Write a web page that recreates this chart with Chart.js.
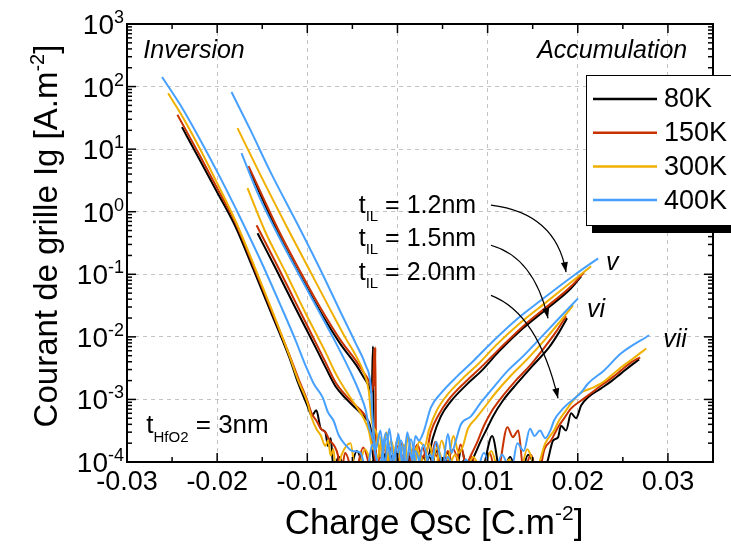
<!DOCTYPE html>
<html>
<head>
<meta charset="utf-8">
<title>Courant de grille</title>
<script src="https://cdn.jsdelivr.net/npm/chart.js@4.4.0/dist/chart.umd.min.js"></script>
<style>
  html, body { margin: 0; padding: 0; background: #fff; }
  #wrap { width: 731px; height: 544px; }
</style>
</head>
<body>
<div id="wrap"><canvas id="myChart" width="731" height="544"></canvas></div>
<script>
// temperatures (legend) and their colours
const temps = ['80K', '150K', '300K', '400K'];
const tempColors = ['#000000', '#c83200', '#f0b000', '#46a0ff'];

// axis ticks
const chargeTicks = [-0.03, -0.02, -0.01, 0, 0.01, 0.02, 0.03];
const chargeTickLabels = ['-0.03', '-0.02', '-0.01', '0.00', '0.01', '0.02', '0.03'];
const chargeMinorTicks = [-0.025, -0.015, -0.005, 0.005, 0.015, 0.025];
const currentTicks = [1e-4, 1e-3, 1e-2, 1e-1, 1, 10, 100, 1000];
const currentExponents = ['-4', '-3', '-2', '-1', '0', '1', '2', '3'];
const mantissas = [2, 3, 4, 5, 6, 7, 8, 9];

// [Qsc (C.m-2), Ig (A.m-2)]  --  tIL = 1.2 nm  (v)
const il12_80K = [[-0.01641,4.61],[-0.01319,0.437],[-0.01074,0.0929],[-0.00852,0.0247],[-0.0063,7.59e-3],[-0.00463,3.63e-3],[-0.00374,2.25e-3],[-0.00319,1.67e-3],[-0.00286,1.29e-3],[-0.00271,7.05e-3],[-0.0026,5e-5],
  [-0.002,8e-5],[-0.0014,1.3e-4],[-0.0008,6e-5],[-0.0002,1.5e-4],[0.0004,5e-5],[0.001,1.2e-4],[0.0016,6e-5],[0.0022,1.4e-4],[0.0028,7e-5],
  [0.00348,1.27e-4],[0.00392,2.4e-4],[0.00481,5.35e-4],[0.00592,9.3e-4],[0.0077,1.74e-3],[0.00937,2.91e-3],[0.01126,5.86e-3],[0.01392,0.0137],[0.01648,0.0275],[0.01926,0.0597],[0.02037,0.0929]];
const il12_150K = [[-0.01652,5.35],[-0.01319,0.506],[-0.01074,0.1076],[-0.00852,0.0286],[-0.0063,8.79e-3],[-0.00463,4.21e-3],[-0.00374,2.7e-3],[-0.00319,2.01e-3],[-0.00274,1.39e-3],[-0.00255,6.6e-3],[-0.0025,1.6e-3],[-0.00245,6.8e-3],[-0.00236,5e-5],
  [-0.0019,1.9e-4],[-0.0013,7e-5],[-0.0007,1.7e-4],[-0.0001,6e-5],[0.0005,2.0e-4],[0.0011,7e-5],[0.0017,1.6e-4],[0.0023,6e-5],[0.0028,1.2e-4],
  [0.00326,1.5e-4],[0.0037,3.0e-4],[0.00459,5.75e-4],[0.0057,1.0e-3],[0.00759,1.94e-3],[0.00926,3.25e-3],[0.01126,6.31e-3],[0.01392,0.0147],[0.01648,0.0296],[0.01926,0.0643],[0.0207,0.1076]];
const il12_300K = [[-0.01774,21.7],[-0.01519,3.84],[-0.01208,0.506],[-0.00963,0.1076],[-0.00741,0.0265],[-0.00574,9.46e-3],[-0.00463,5.06e-3],[-0.00374,2.7e-3],[-0.00319,1.39e-3],[-0.00286,4.6e-4],
  [-0.0023,2.8e-4],[-0.0018,1.2e-4],[-0.0012,3.0e-4],[-0.0006,8e-5],[0.0,2.4e-4],[0.0006,7e-5],[0.0012,2.6e-4],[0.0018,9e-5],[0.0024,2.1e-4],
  [0.00303,1.8e-4],[0.00348,3.2e-4],[0.00437,6.7e-4],[0.00548,1.16e-3],[0.00726,2.17e-3],[0.00903,3.77e-3],[0.01092,7.31e-3],[0.0137,0.0171],[0.01648,0.0356],[0.01981,0.0863],[0.02148,0.134]];
const il12_400K = [[-0.01841,81.7],[-0.0163,20.1],[-0.01408,4.29],[-0.01074,0.506],[-0.00852,0.116],[-0.0063,0.0247],[-0.00463,7.87e-3],[-0.00352,3.5e-3],[-0.00297,1.67e-3],[-0.00274,4.6e-4],
  [-0.0024,1.6e-4],[-0.0019,3.2e-4],[-0.0014,9e-5],[-0.0009,3.4e-4],[-0.0004,1.0e-4],[0.0001,2.8e-4],[0.0006,8e-5],[0.0011,3.0e-4],[0.0016,1.1e-4],[0.0020,2.6e-4],
  [0.00237,2.2e-4],[0.00292,3.1e-4],[0.0037,7.4e-4],[0.00481,1.25e-3],[0.0067,2.4e-3],[0.00848,4.2e-3],[0.01037,7.9e-3],[0.01337,0.0198],[0.01592,0.0384],[0.01959,0.0964],[0.02226,0.18]];

// tIL = 1.5 nm  (vi)
const il15_80K = [[-0.01552,0.453],[-0.01352,0.125],[-0.0113,0.0286],[-0.00908,6.79e-3],[-0.00797,3.25e-3],[-0.00686,1.61e-3],[-0.00574,1.04e-3],[-0.00463,7.2e-4],[-0.00352,4.97e-4],[-0.00297,3.4e-4],
  [-0.0027,1.2e-4],[-0.002,6e-5],[-0.0013,1.4e-4],[-0.0006,5e-5],[0.0001,1.1e-4],[0.0008,6e-5],[0.0015,1.3e-4],[0.0022,5e-5],[0.0029,1.2e-4],[0.0036,6e-5],[0.0043,1.5e-4],[0.005,7e-5],[0.0057,1.2e-4],[0.0064,6e-5],[0.0071,1.6e-4],[0.0077,8e-5],
  [0.00837,1.14e-4],[0.00926,2.2e-4],[0.00992,3.4e-4],[0.01059,5.35e-4],[0.0117,9.6e-4],[0.01326,1.8e-3],[0.01492,3.37e-3],[0.01681,6.79e-3],[0.01792,0.0118],[0.01881,0.0198]];
const il15_150K = [[-0.01563,0.608],[-0.01352,0.156],[-0.0113,0.0356],[-0.00908,8.17e-3],[-0.00797,3.91e-3],[-0.00686,1.87e-3],[-0.00574,1.16e-3],[-0.00463,8.0e-4],[-0.00386,6.2e-4],[-0.0033,4.6e-4],
  [-0.0028,2.0e-4],[-0.0021,7e-5],[-0.0014,1.6e-4],[-0.0007,6e-5],[0.0,1.8e-4],[0.0007,7e-5],[0.0014,1.4e-4],[0.0021,6e-5],[0.0028,1.7e-4],[0.0035,7e-5],[0.0042,2.1e-4],[0.0049,8e-5],[0.0056,1.5e-4],[0.0063,6e-5],[0.007,1.9e-4],[0.0076,9e-5],
  [0.00814,1.27e-4],[0.00892,2.2e-4],[0.00959,3.8e-4],[0.01037,6.2e-4],[0.01148,1.04e-3],[0.01314,2.01e-3],[0.01481,3.63e-3],[0.01648,7.31e-3],[0.0177,0.0127],[0.0187,0.0213]];
const il15_300K = [[-0.01663,2.38],[-0.01474,0.506],[-0.01241,0.1076],[-0.01019,0.0238],[-0.00797,5.65e-3],[-0.00686,2.61e-3],[-0.00574,1.39e-3],[-0.00463,8.0e-4],[-0.00374,4.97e-4],[-0.00319,3.2e-4],
  [-0.0027,1.6e-4],[-0.002,2.6e-4],[-0.0014,7e-5],[-0.0007,2.2e-4],[0.0,8e-5],[0.0007,1.9e-4],[0.0014,6e-5],[0.0021,1.7e-4],[0.0028,7e-5],[0.0035,2.0e-4],[0.0042,8e-5],[0.0049,2.2e-4],[0.0056,1.1e-4],[0.0062,2.6e-4],[0.0068,1.4e-4],
  [0.00726,1.8e-4],[0.00781,3.4e-4],[0.0087,4.97e-4],[0.00981,8.0e-4],[0.01092,1.29e-3],[0.01259,2.41e-3],[0.01448,4.53e-3],[0.01648,9.46e-3],[0.01814,0.0184],[0.01948,0.0319]];
const il15_400K = [[-0.0173,8.63],[-0.01541,1.84],[-0.01352,0.506],[-0.0113,0.125],[-0.00908,0.0319],[-0.00686,8.17e-3],[-0.00519,2.7e-3],[-0.00408,1.16e-3],[-0.00352,6.7e-4],[-0.00319,3.8e-4],
  [-0.0027,2.2e-4],[-0.002,8e-5],[-0.0013,2.9e-4],[-0.0006,9e-5],[0.0001,2.5e-4],[0.0008,7e-5],[0.0015,2.3e-4],[0.0022,8e-5],[0.0029,1.9e-4],[0.0036,7e-5],[0.0043,2.1e-4],[0.005,9e-5],[0.0056,2.8e-4],[0.006,1.4e-4],
  [0.00648,2.2e-4],[0.00703,3.98e-4],[0.00814,5.35e-4],[0.00926,8.95e-4],[0.01037,1.39e-3],[0.01226,2.91e-3],[0.01403,5.06e-3],[0.01592,9.8e-3],[0.01792,0.0198],[0.02003,0.0413]];

// tIL = 2.0 nm  (vii)
const il20_80K = [[-0.0239,22.5],[-0.022,7.0],[-0.020,2.05],[-0.018,0.59],[-0.016,0.122],[-0.014,0.024],[-0.012,4.7e-3],[-0.011,1.8e-3],[-0.010,8.0e-4],[-0.0095,5.5e-4],[-0.009,6.7e-4],[-0.0085,3.4e-4],[-0.008,3.0e-4],[-0.0077,1.8e-4],[-0.0074,2.4e-4],[-0.0071,8e-5],
  [-0.0065,1.2e-4],[-0.0055,6e-5],[-0.0045,1.5e-4],[-0.0035,7e-5],[-0.0025,1.1e-4],[-0.0015,5e-5],[-0.0005,1.3e-4],[0.0005,6e-5],[0.0015,1.0e-4],[0.0025,5e-5],[0.0035,1.2e-4],[0.0045,6e-5],[0.0055,1.4e-4],[0.0065,7e-5],[0.0075,1.1e-4],[0.0085,5e-5],[0.0095,8e-5],[0.0105,2.6e-4],[0.0115,6e-5],[0.0125,1.2e-4],[0.0135,5e-5],[0.0145,1.3e-4],[0.0155,7e-5],[0.0161,6e-5],
  [0.0167,1.1e-4],[0.01726,2.2e-4],[0.01781,2.47e-4],[0.01814,3.8e-4],[0.0187,3.2e-4],[0.01926,6.0e-4],[0.01981,5.0e-4],[0.02037,8.0e-4],[0.02114,1.08e-3],[0.02259,1.5e-3],[0.0237,1.94e-3],[0.02481,2.61e-3],[0.02592,3.5e-3],[0.02681,4.37e-3]];
const il20_150K = [[-0.02441,35.4],[-0.022,8.3],[-0.020,2.38],[-0.018,0.68],[-0.016,0.139],[-0.014,0.027],[-0.012,5.2e-3],[-0.011,2.17e-3],[-0.010,9.6e-4],[-0.0095,5.9e-4],[-0.009,4.6e-4],[-0.0085,3.4e-4],[-0.008,3.0e-4],[-0.0075,2.2e-4],[-0.007,1.8e-4],[-0.0066,1.27e-4],[-0.0063,6e-5],
  [-0.0058,1.4e-4],[-0.0048,6e-5],[-0.0038,1.7e-4],[-0.0028,7e-5],[-0.0018,1.2e-4],[-0.0008,5e-5],[0.0002,1.5e-4],[0.0012,7e-5],[0.0022,1.9e-4],[0.0032,6e-5],[0.0042,1.3e-4],[0.0052,8e-5],[0.0062,1.6e-4],[0.0072,6e-5],[0.0082,1.2e-4],[0.0092,5e-5],[0.0102,1.4e-4],[0.011,6e-5],[0.0122,3.6e-4],[0.0128,2.5e-4],[0.0134,3.2e-4],[0.014,7e-5],[0.0148,1.3e-4],[0.0156,6e-5],[0.0163,1.6e-4],
  [0.01703,2.2e-4],[0.01781,3.6e-4],[0.01848,4.97e-4],[0.01926,7.2e-4],[0.02037,9.6e-4],[0.02114,1.16e-3],[0.02259,1.67e-3],[0.0237,2.17e-3],[0.02481,2.91e-3],[0.02592,3.91e-3],[0.02692,4.7e-3]];
const il20_300K = [[-0.02544,78],[-0.024,36],[-0.022,10.7],[-0.020,2.86],[-0.018,0.73],[-0.016,0.15],[-0.014,0.0286],[-0.012,5.06e-3],[-0.011,2.0e-3],[-0.010,9.0e-4],[-0.0095,5.0e-4],[-0.009,3.4e-4],[-0.0085,2.65e-4],[-0.008,1.8e-4],[-0.0077,2.2e-4],[-0.0074,1.27e-4],[-0.0071,1.6e-4],[-0.0068,6e-5],
  [-0.0062,1.3e-4],[-0.0052,2.0e-4],[-0.0046,6e-5],[-0.0036,1.6e-4],[-0.0026,8e-5],[-0.0016,2.2e-4],[-0.0006,6e-5],[0.0004,1.8e-4],[0.0014,7e-5],[0.0024,1.4e-4],[0.0034,5e-5],[0.0044,1.7e-4],[0.0054,7e-5],[0.0064,1.3e-4],[0.0074,6e-5],[0.0084,1.2e-4],[0.0094,7e-5],[0.0104,1.5e-4],[0.0114,6e-5],[0.0124,1.1e-4],[0.0134,5e-5],[0.0144,1.6e-4],[0.0154,8e-5],[0.0164,2.0e-4],
  [0.01737,3.2e-4],[0.01792,4.6e-4],[0.0187,6.7e-4],[0.01948,9.6e-4],[0.02037,1.29e-3],[0.02148,1.5e-3],[0.02259,1.8e-3],[0.0237,2.4e-3],[0.02481,3.25e-3],[0.02614,4.5e-3],[0.02759,6.5e-3]];
const il20_400K = [[-0.02611,142],[-0.02408,50.6],[-0.02186,13.9],[-0.01963,3.44],[-0.01741,0.787],[-0.01519,0.1675],[-0.01297,0.0319],[-0.0113,8.79e-3],[-0.0102,3.5e-3],[-0.0093,1.8e-3],[-0.0083,1.08e-3],[-0.0077,6.2e-4],[-0.0071,4.6e-4],[-0.0065,2.65e-4],[-0.0058,1.9e-4],[-0.005,1.5e-4],[-0.0041,1.4e-4],[-0.0034,7e-5],
  [-0.0028,1.9e-4],[-0.002,8e-5],[-0.0012,2.4e-4],[-0.0004,7e-5],[0.0004,2.2e-4],[0.0012,6e-5],[0.002,1.5e-4],[0.0028,7e-5],[0.0036,1.3e-4],[0.0046,6e-5],[0.0056,1.2e-4],[0.0066,5e-5],[0.0076,1.1e-4],[0.0086,6e-5],[0.0096,1.4e-4],[0.0106,6e-5],[0.0116,1.3e-4],[0.0126,7e-5],[0.0133,2.0e-4],[0.014,1.5e-4],[0.0147,3.4e-4],[0.0152,2.6e-4],[0.0158,3.2e-4],[0.0164,2.4e-4],[0.017,3.3e-4],
  [0.01737,4.6e-4],[0.01848,7.45e-4],[0.02037,1.29e-3],[0.02114,1.8e-3],[0.02292,2.91e-3],[0.02481,5.45e-3],[0.02792,0.0106]];

// one row per temperature, same order as temps
const curvesByTemp = [
  [il12_80K, il15_80K, il20_80K],
  [il12_150K, il15_150K, il20_150K],
  [il12_300K, il15_300K, il20_300K],
  [il12_400K, il15_400K, il20_400K]
];

// annotation positions in data units [Qsc, Ig]
const ilLabels = [['1.2nm', -0.0043, 0.946], ['1.5nm', -0.0043, 0.28], ['2.0nm', -0.0043, 0.080]];
const arrowPaths = [
  [[0.01037, 1.27], [0.01759, 0.946], [0.0187, 0.108]],
  [[0.01037, 0.291], [0.01514, 0.187], [0.0167, 0.0198]],
  [[0.01037, 0.0461], [0.01559, 0.0238], [0.01781, 1.04e-3]]
];
const curveTags = [['v', 0.02314, 0.116], ['vi', 0.02103, 0.0205], ['vii', 0.02948, 6.8e-3]];

const FONT = '"Liberation Sans", Arial, sans-serif';
const fnt = (size, italic) => (italic ? 'italic ' : '') + size + 'px ' + FONT;

// draw a run of text pieces [text, size, dy] (for super/subscripts)
function rich(ctx, parts, x, y, align, italic) {
  let w = 0;
  parts.forEach(p => { ctx.font = fnt(p[1], italic); w += ctx.measureText(p[0]).width; });
  let cx = align === 'right' ? x - w : align === 'center' ? x - w / 2 : x;
  ctx.textAlign = 'left';
  ctx.textBaseline = 'alphabetic';
  parts.forEach(p => {
    ctx.font = fnt(p[1], italic);
    ctx.fillText(p[0], cx, y + (p[2] || 0));
    cx += ctx.measureText(p[0]).width;
  });
}

const decorations = {
  id: 'decorations',
  afterDraw(chart) {
    const { ctx, chartArea: a, scales: { x, y } } = chart;
    ctx.save();
    ctx.fillStyle = '#000';
    ctx.strokeStyle = '#000';
    const seg = (x1, y1, x2, y2) => { ctx.beginPath(); ctx.moveTo(x1, y1); ctx.lineTo(x2, y2); ctx.stroke(); };

    // tick marks, pointing inwards, on all four sides
    ctx.lineWidth = 1.5;
    chargeTicks.forEach(v => {
      const px = x.getPixelForValue(v);
      seg(px, a.bottom, px, a.bottom - 9); seg(px, a.top, px, a.top + 9);
    });
    chargeMinorTicks.forEach(v => {
      const px = x.getPixelForValue(v);
      seg(px, a.bottom, px, a.bottom - 5); seg(px, a.top, px, a.top + 5);
    });
    currentTicks.forEach((v, i) => {
      const py = y.getPixelForValue(v);
      seg(a.left, py, a.left + 9, py); seg(a.right, py, a.right - 9, py);
      if (i < currentTicks.length - 1) {
        mantissas.forEach(m => {
          const pm = y.getPixelForValue(v * m);
          seg(a.left, pm, a.left + 5, pm); seg(a.right, pm, a.right - 5, pm);
        });
      }
    });
    ctx.lineWidth = 2;
    ctx.strokeRect(a.left, a.top, a.right - a.left, a.bottom - a.top);

    // tick labels
    ctx.textAlign = 'center';
    ctx.textBaseline = 'alphabetic';
    ctx.font = fnt(27);
    chargeTicks.forEach((v, i) => ctx.fillText(chargeTickLabels[i], x.getPixelForValue(v), a.bottom + 28));
    currentTicks.forEach((v, i) => {
      const py = y.getPixelForValue(v);
      rich(ctx, [['10', 28, 0], [currentExponents[i], 18, -11]], a.left - 3, py + 10, 'right');
    });

    // axis titles
    rich(ctx, [['Charge Qsc [C.m', 35, 0], ['-2', 21, -14], [']', 35, 0]], 434, 534, 'center');
    ctx.save();
    ctx.translate(57, 236);
    ctx.rotate(-Math.PI / 2);
    rich(ctx, [['Courant de grille Ig [A.m', 33, 0], ['-2', 20, -13], [']', 33, 0]], 0, 0, 'center');
    ctx.restore();

    // region labels
    rich(ctx, [['Inversion', 25, 0]], x.getPixelForValue(-0.02819), y.getPixelForValue(286), 'left', true);
    rich(ctx, [['Accumulation', 25, 0]], x.getPixelForValue(0.03214), y.getPixelForValue(286), 'right', true);
    rich(ctx, [['t', 26, 0], ['HfO2', 15, 9], [' = 3nm', 26, 0]], x.getPixelForValue(-0.02786), y.getPixelForValue(2.86e-4), 'left');
    ilLabels.forEach(l => rich(ctx, [['t', 25, 0], ['IL', 15, 8], [' = ' + l[0], 25, 0]], x.getPixelForValue(l[1]), y.getPixelForValue(l[2]), 'left'));
    curveTags.forEach(t => rich(ctx, [[t[0], 25, 0]], x.getPixelForValue(t[1]), y.getPixelForValue(t[2]), 'left', true));

    // curved arrows
    ctx.lineWidth = 1.2;
    arrowPaths.forEach(p => {
      const [s, c, e] = p.map(q => [x.getPixelForValue(q[0]), y.getPixelForValue(q[1])]);
      ctx.beginPath(); ctx.moveTo(s[0], s[1]); ctx.quadraticCurveTo(c[0], c[1], e[0], e[1]); ctx.stroke();
      const ang = Math.atan2(e[1] - c[1], e[0] - c[0]);
      ctx.beginPath();
      ctx.moveTo(e[0], e[1]);
      ctx.lineTo(e[0] - 10 * Math.cos(ang) + 3.5 * Math.sin(ang), e[1] - 10 * Math.sin(ang) - 3.5 * Math.cos(ang));
      ctx.lineTo(e[0] - 10 * Math.cos(ang) - 3.5 * Math.sin(ang), e[1] - 10 * Math.sin(ang) + 3.5 * Math.cos(ang));
      ctx.closePath(); ctx.fill();
    });

    // legend box with drop shadow
    const lx = a.right - 127, ly = a.top + 51, lw = 160, lh = 150;
    ctx.fillStyle = '#000';
    ctx.fillRect(lx + 6, ly + lh, lw, 8);
    ctx.fillStyle = '#fff';
    ctx.fillRect(lx, ly, lw, lh);
    ctx.lineWidth = 1;
    ctx.strokeRect(lx + 0.5, ly + 0.5, lw, lh);
    temps.forEach((t, i) => {
      const ey = ly + 24 + i * 33.7;
      ctx.strokeStyle = tempColors[i];
      ctx.lineWidth = 2.5;
      seg(lx + 7, ey, lx + 71, ey);
      ctx.fillStyle = '#000';
      ctx.font = fnt(27);
      ctx.textAlign = 'left';
      ctx.textBaseline = 'middle';
      ctx.fillText(t, lx + 78, ey + 1);
    });
    ctx.restore();
  }
};

// datasets: 400K first so it is drawn on top
const datasets = [];
for (let t = temps.length - 1; t >= 0; t--) {
  curvesByTemp[t].forEach(curve => {
    datasets.push({
      label: temps[t],
      data: curve.map(p => ({ x: p[0], y: p[1] })),
      borderColor: tempColors[t],
      borderWidth: 2,
      pointRadius: 0,
      showLine: true,
      fill: false,
      cubicInterpolationMode: 'monotone'
    });
  });
}

const ctx = document.getElementById('myChart');
new Chart(ctx, {
  type: 'scatter',
  data: { datasets },
  options: {
    responsive: false,
    animation: false,
    devicePixelRatio: 1,
    events: [],
    layout: { padding: { left: 127, right: 18, top: 24, bottom: 82 } },
    plugins: { legend: { display: false }, tooltip: { enabled: false } },
    scales: {
      x: {
        type: 'linear', min: -0.03, max: 0.035,
        afterBuildTicks: scale => { scale.ticks = chargeTicks.map(v => ({ value: v })); },
        ticks: { display: false },
        grid: { drawTicks: false, color: '#c4c4c4', lineWidth: 1 },
        border: { display: false, dash: [4, 4] }
      },
      y: {
        type: 'logarithmic', min: 1e-4, max: 1e3,
        afterBuildTicks: scale => { scale.ticks = currentTicks.map(v => ({ value: v })); },
        ticks: { display: false },
        grid: { drawTicks: false, color: '#c4c4c4', lineWidth: 1 },
        border: { display: false, dash: [4, 4] }
      }
    }
  },
  plugins: [decorations]
});
</script>
</body>
</html>
